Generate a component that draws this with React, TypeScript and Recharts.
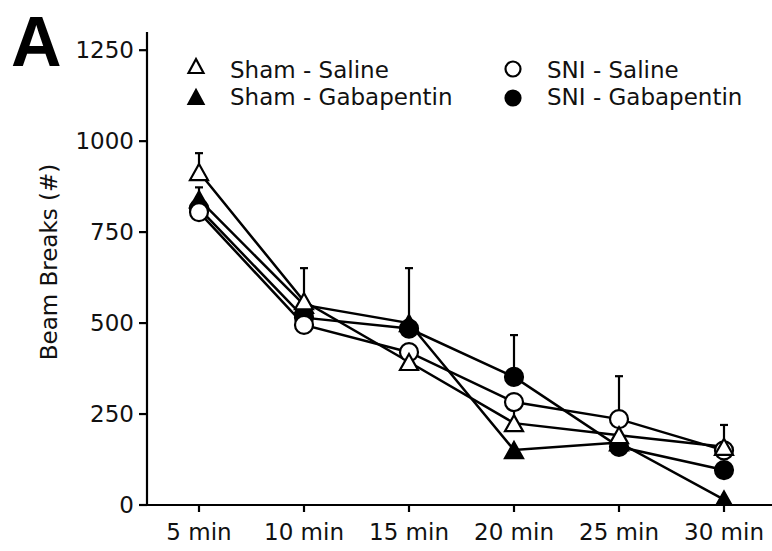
import React from 'react';
import { LineChart, Line, XAxis, YAxis, ErrorBar } from 'recharts';

const categories = ['5 min', '10 min', '15 min', '20 min', '25 min', '30 min'];
const shamSaline = [915, 560, 393, 225, 192, 160];
const shamSalineErr = [52, 91, 0, 60, 0, 60];
const shamGabapentin = [840, 550, 500, 151, 172, 15];
const shamGabapentinErr = [33, 0, 151, 0, 0, 0];
const sniSaline = [805, 495, 420, 283, 236, 150];
const sniSalineErr = [0, 0, 0, 0, 118, 0];
const sniGabapentin = [815, 515, 485, 352, 160, 96];
const sniGabapentinErr = [0, 0, 0, 115, 0, 0];
const seriesNames = ['Sham - Saline', 'Sham - Gabapentin', 'SNI - Saline', 'SNI - Gabapentin'];
const yTicks = [0, 250, 500, 750, 1000, 1250];
const yLabel = 'Beam Breaks (#)';
const panelLetter = 'A';

const data = categories.map((c, i) => ({
  cat: c,
  ss: shamSaline[i],
  ssE: [0, shamSalineErr[i]],
  sg: shamGabapentin[i],
  sgE: [0, shamGabapentinErr[i]],
  ns: sniSaline[i],
  nsE: [0, sniSalineErr[i]],
  ng: sniGabapentin[i],
  ngE: [0, sniGabapentinErr[i]],
}));

const FONT = 'DejaVu Sans';
const LW = 2.5;

const triPath = (cx: number, cy: number, w: number, h: number) =>
  `M${cx},${cy - h / 2} L${cx + w / 2},${cy + h / 2} L${cx - w / 2},${cy + h / 2} Z`;

const makeDot = (shape: 'circle' | 'triangle', filled: boolean) => (props: any) => {
  const { cx, cy, index } = props;
  if (cx == null || cy == null) return <g key={index} />;
  if (shape === 'circle') {
    return (
      <circle key={index} cx={cx} cy={cy} r={9} fill={filled ? '#000' : '#fff'} stroke="#000" strokeWidth={2.2} />
    );
  }
  return (
    <path key={index} d={triPath(cx, cy, 18, 16)} fill={filled ? '#000' : '#fff'} stroke="#000" strokeWidth={2.2} strokeLinejoin="miter" />
  );
};

const tickStyle = { fontFamily: FONT, fontSize: 23, fill: '#111' };

export default function App() {
  return (
    <div style={{ position: 'absolute', left: 0, top: 0, width: 772, height: 551, background: '#fff' }}>
      <LineChart width={772} height={551} data={data} margin={{ top: 32, right: 0, bottom: 0, left: 0 }}>
        <XAxis
          dataKey="cat"
          height={46}
          padding={{ left: 52, right: 48 }}
          tickSize={7}
          tickMargin={12}
          tick={tickStyle}
          axisLine={{ stroke: '#000', strokeWidth: 2.2 }}
          tickLine={{ stroke: '#000', strokeWidth: 2.2 }}
          interval={0}
        />
        <YAxis
          width={147}
          domain={[0, 1300]}
          ticks={yTicks}
          tickSize={8}
          tickMargin={5}
          tick={tickStyle}
          axisLine={{ stroke: '#000', strokeWidth: 2.2 }}
          tickLine={{ stroke: '#000', strokeWidth: 2.2 }}
          allowDataOverflow
        />
        <Line dataKey="ng" name={seriesNames[3]} stroke="#000" strokeWidth={LW} isAnimationActive={false} dot={makeDot('circle', true)} activeDot={false}>
          <ErrorBar dataKey="ngE" width={4} stroke="#000" strokeWidth={2.2} direction="y" />
        </Line>
        <Line dataKey="sg" name={seriesNames[1]} stroke="#000" strokeWidth={LW} isAnimationActive={false} dot={makeDot('triangle', true)} activeDot={false}>
          <ErrorBar dataKey="sgE" width={4} stroke="#000" strokeWidth={2.2} direction="y" />
        </Line>
        <Line dataKey="ns" name={seriesNames[2]} stroke="#000" strokeWidth={LW} isAnimationActive={false} dot={makeDot('circle', false)} activeDot={false}>
          <ErrorBar dataKey="nsE" width={4} stroke="#000" strokeWidth={2.2} direction="y" />
        </Line>
        <Line dataKey="ss" name={seriesNames[0]} stroke="#000" strokeWidth={LW} isAnimationActive={false} dot={makeDot('triangle', false)} activeDot={false}>
          <ErrorBar dataKey="ssE" width={4} stroke="#000" strokeWidth={2.2} direction="y" />
        </Line>
      </LineChart>
      <svg width={772} height={551} style={{ position: 'absolute', left: 0, top: 0, pointerEvents: 'none' }}>
        <text x={11} y={66} fontFamily="Liberation Sans" fontWeight="bold" fontSize={70} fill="#000">{panelLetter}</text>
        <text x={57} y={262} transform="rotate(-90, 57, 262)" textAnchor="middle" fontFamily={FONT} fontSize={23} fill="#111">{yLabel}</text>
        <path d={triPath(196, 66, 15, 14)} fill="#fff" stroke="#000" strokeWidth={2.2} />
        <text x={230} y={78} fontFamily={FONT} fontSize={23} fill="#111">{seriesNames[0]}</text>
        <path d={triPath(196, 97, 15, 14)} fill="#000" stroke="#000" strokeWidth={2.2} />
        <text x={230} y={105} fontFamily={FONT} fontSize={23} fill="#111">{seriesNames[1]}</text>
        <circle cx={513} cy={69} r={7.5} fill="#fff" stroke="#000" strokeWidth={2.2} />
        <text x={547} y={78} fontFamily={FONT} fontSize={23} fill="#111">{seriesNames[2]}</text>
        <circle cx={513} cy={98} r={7.5} fill="#000" stroke="#000" strokeWidth={2.2} />
        <text x={547} y={105} fontFamily={FONT} fontSize={23} fill="#111">{seriesNames[3]}</text>
      </svg>
    </div>
  );
}
